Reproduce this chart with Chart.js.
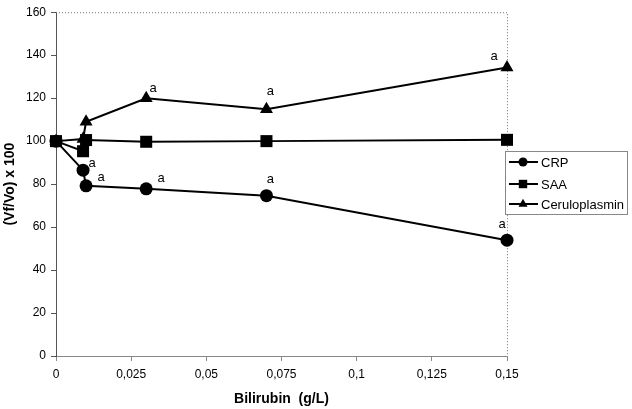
<!DOCTYPE html>
<html>
<head>
<meta charset="utf-8">
<script src="https://cdn.jsdelivr.net/npm/chart.js@4.4.1/dist/chart.umd.min.js"></script>
<style>
    body { margin: 0; background: #fff; }
    #wrap { width: 632px; height: 409px; position: relative; }
</style>
</head>
<body>
<div id="wrap"><canvas id="bilirubinChart"></canvas></div>
<script>
// Chart data
const bilirubin = [0, 0.009, 0.01, 0.03, 0.07, 0.15];
const crpValues = [100, 86.5, 79.2, 77.8, 74.6, 53.9];
const saaValues = [100, 95.3, 100.5, 99.7, 100, 100.6];
const ceruloValues = [100, 101, 109, 119.9, 114.8, 134.3];
const seriesNames = ['CRP', 'SAA', 'Ceruloplasmin'];
const yTicks = [0, 20, 40, 60, 80, 100, 120, 140, 160];

// 'a' marks: [dataset, point index, dx, dy]
const sigMarks = [
    [0, 1, 9, -7], [0, 2, 15, -8], [0, 3, 15, -10], [0, 4, 4, -16], [0, 5, -5, -16],
    [2, 3, 7, -10], [2, 4, 4, -18], [2, 5, -13, -11]
];

const FONT = 'Liberation Sans, Arial, sans-serif';

function toPoints(values) {
    return bilirubin.map((x, i) => ({ x: x, y: values[i] }));
}

const markerStyles = [
    { pointStyle: 'circle', radius: 6.5 },
    { pointStyle: 'rect', radius: 8.5 },
    { pointStyle: 'triangle', radius: 7.5 }
];

const allValues = [crpValues, saaValues, ceruloValues];

const datasets = seriesNames.map((name, i) => ({
    label: name,
    data: toPoints(allValues[i]),
    borderColor: '#000',
    backgroundColor: '#000',
    borderWidth: 2,
    pointStyle: markerStyles[i].pointStyle,
    pointRadius: markerStyles[i].radius,
    pointHoverRadius: markerStyles[i].radius,
    pointBackgroundColor: '#000',
    pointBorderColor: '#000',
    pointBorderWidth: 0,
    tension: 0,
    clip: false,
    order: 3 - i
}));

// plot border (dotted top and right) + 'a' labels + legend box
const extras = {
    id: 'extras',
    beforeDatasetsDraw(chart) {
        const { ctx, chartArea: a } = chart;
        ctx.save();
        ctx.strokeStyle = '#777';
        ctx.lineWidth = 1;
        ctx.setLineDash([1, 2]);
        ctx.beginPath();
        ctx.moveTo(a.left, a.top + 0.5);
        ctx.lineTo(a.right + 0.5, a.top + 0.5);
        ctx.lineTo(a.right + 0.5, a.bottom);
        ctx.stroke();
        ctx.restore();
    },
    afterDraw(chart) {
        const { ctx } = chart;
        ctx.save();
        ctx.fillStyle = '#000';
        ctx.font = '13px ' + FONT;
        ctx.textAlign = 'center';
        ctx.textBaseline = 'middle';
        sigMarks.forEach(([ds, idx, dx, dy]) => {
            const pt = chart.getDatasetMeta(ds).data[idx];
            ctx.fillText('a', pt.x + dx, pt.y + dy);
        });

        // legend
        const box = { x: 505.5, y: 151.5, w: 122, h: 63 };
        ctx.fillStyle = '#fff';
        ctx.fillRect(box.x, box.y, box.w, box.h);
        ctx.strokeStyle = '#888';
        ctx.lineWidth = 1;
        ctx.strokeRect(box.x, box.y, box.w, box.h);
        const rowsY = [162, 184, 204];
        ctx.font = '13px ' + FONT;
        ctx.textAlign = 'left';
        seriesNames.forEach((name, i) => {
            const y = rowsY[i];
            ctx.strokeStyle = '#000';
            ctx.lineWidth = 2;
            ctx.beginPath();
            ctx.moveTo(509, y);
            ctx.lineTo(538, y);
            ctx.stroke();
            ctx.fillStyle = '#000';
            Chart.helpers.drawPoint(ctx, {
                pointStyle: markerStyles[i].pointStyle,
                radius: markerStyles[i].radius * 0.7,
                rotation: 0,
                borderWidth: 0
            }, 523, y);
            ctx.fillText(name, 541, y + 1);
        });
        ctx.restore();
    }
};

new Chart(document.getElementById('bilirubinChart'), {
    type: 'line',
    data: { datasets: datasets },
    options: {
        responsive: true,
        maintainAspectRatio: false,
        animation: false,
        layout: { padding: { left: 0, right: 125, top: 12, bottom: 0 } },
        scales: {
            x: {
                type: 'linear',
                min: 0,
                max: 0.15,
                afterFit: s => { s.height = 53; },
                border: { color: '#888', width: 1 },
                grid: { drawOnChartArea: false, drawTicks: true, tickLength: 5, color: '#888' },
                ticks: {
                    stepSize: 0.025,
                    color: '#000',
                    font: { family: FONT, size: 12 },
                    padding: 6,
                    maxRotation: 0,
                    callback: v => String(Math.round(v * 1000) / 1000).replace('.', ',')
                },
                title: {
                    display: true,
                    text: 'Bilirubin  (g/L)',
                    color: '#000',
                    font: { family: FONT, size: 14, weight: 'bold' },
                    padding: { top: 0, bottom: 1 }
                }
            },
            y: {
                min: 0,
                max: 160,
                afterFit: s => { s.width = 56; },
                afterBuildTicks: s => { s.ticks = yTicks.map(v => ({ value: v })); },
                border: { color: '#555', width: 1 },
                grid: { drawOnChartArea: false, drawTicks: true, tickLength: 5, color: '#555' },
                ticks: {
                    color: '#000',
                    font: { family: FONT, size: 12 },
                    padding: 5
                },
                title: {
                    display: true,
                    text: '(Vf/Vo) x 100',
                    color: '#000',
                    font: { family: FONT, size: 14, weight: 'bold' },
                    padding: { top: 2, bottom: 0 }
                }
            }
        },
        plugins: {
            legend: { display: false },
            tooltip: { enabled: false }
        }
    },
    plugins: [extras]
});
</script>
</body>
</html>
